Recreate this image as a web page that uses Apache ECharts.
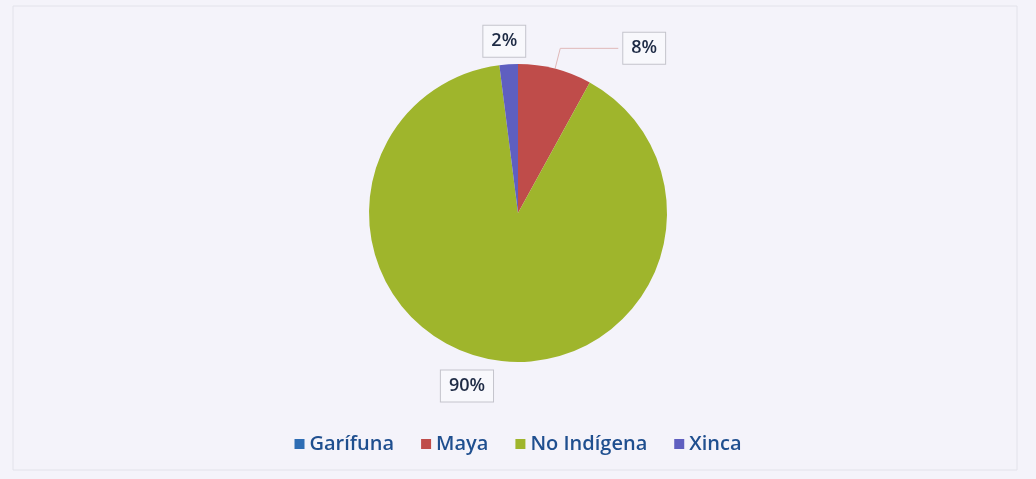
<!DOCTYPE html>
<html>
<head>
<meta charset="utf-8">
<script src="https://cdn.jsdelivr.net/npm/echarts@6/dist/echarts.min.js"></script>
<style>
html,body{margin:0;padding:0;background:#f4f3fa;}
#chart{width:1036px;height:479px;}
</style>
</head>
<body>
<div id="chart"></div>
<script>
const categories = ['Garífuna', 'Maya', 'No Indígena', 'Xinca'];
const values = [0, 8, 90, 2];
const colors = ['#2e6db4', '#bf4c4a', '#9fb52c', '#5f5fc0'];

const chart = echarts.init(document.getElementById('chart'));

const labelBox = {
  show: true,
  position: 'outside',
  formatter: '{d}%',
  fontFamily: 'Open Sans',
  fontSize: 18,
  fontWeight: 600,
  color: '#1e2b45',
  backgroundColor: '#f8f8fc',
  borderColor: '#c4c4cc',
  borderWidth: 1,
  padding: [7, 8, 6, 8]
};

const data = categories.map((name, i) => {
  const item = { name: name, value: values[i], itemStyle: { color: colors[i] } };
  if (values[i] === 0) {
    item.label = { show: false };
    item.labelLine = { show: false };
  }
  return item;
});
data[1].labelLine = { show: true, length: 21, length2: 58, lineStyle: { color: '#e0b8b8', width: 1 } };
data[2].labelLine = { show: false, length: 27, length2: -13 };
data[3].labelLine = { show: false, length: 23, length2: -23 };

chart.setOption({
  backgroundColor: '#f4f3fa',
  animation: false,
  graphic: [{
    type: 'rect',
    shape: { x: 13, y: 6, width: 1004, height: 464 },
    style: { fill: 'none', stroke: '#e2e2ea', lineWidth: 1 },
    silent: true
  }],
  legend: {
    data: categories,
    left: 'center',
    top: 429,
    icon: 'rect',
    itemWidth: 10,
    itemHeight: 10,
    itemGap: 27,
    textStyle: { fontFamily: 'Open Sans', fontSize: 20, color: '#1f4f8f', fontWeight: 600 }
  },
  series: [{
    type: 'pie',
    center: [518, 213],
    radius: 149,
    startAngle: 90,
    clockwise: true,
    avoidLabelOverlap: false,
    label: labelBox,
    labelLine: { show: true },
    itemStyle: { borderWidth: 0 },
    data: data
  }]
});
</script>
</body>
</html>
